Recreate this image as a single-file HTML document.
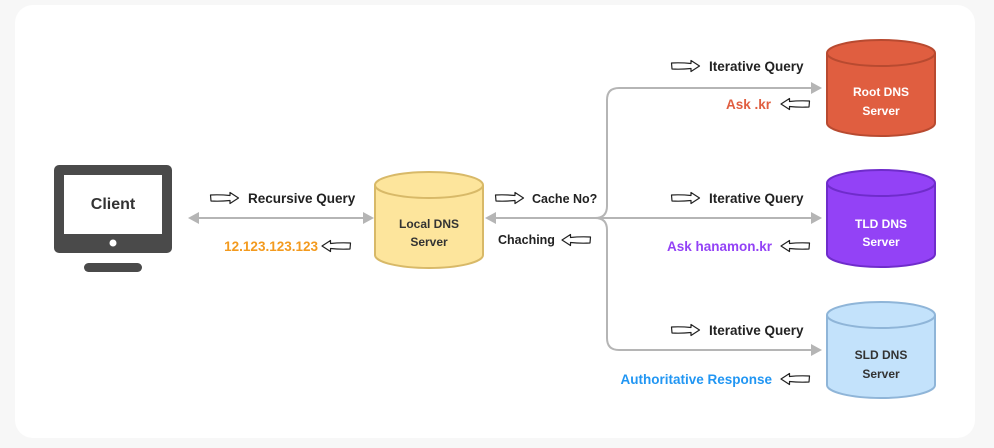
<!DOCTYPE html>
<html><head><meta charset="utf-8"><style>
html,body{margin:0;padding:0;background:#f7f7f7;}
svg{display:block}
text{font-family:"Liberation Sans",sans-serif;font-weight:bold;}
</style></head><body>
<svg width="994" height="448" viewBox="0 0 994 448" xmlns="http://www.w3.org/2000/svg">
<defs>
<g id="ar"><path d="M0.5,3 Q10,2.5 20,3.5 L20,0.5 L28.5,6 L20,11.5 L20,8.5 Q10,9.5 1,9 Z" fill="#fff" stroke="#222" stroke-width="1.2" stroke-linejoin="round"/></g>
<g id="al"><path d="M28.5,3 Q18,2.5 8.5,3.5 L8.5,0.5 L0,6 L8.5,11.5 L8.5,8.5 Q18,9.5 28,9 Z" fill="#fff" stroke="#222" stroke-width="1.2" stroke-linejoin="round"/></g>
</defs>
<rect x="15" y="5" width="960" height="433" rx="18" fill="#fff"/>
<rect x="54" y="165" width="118" height="88" rx="5" fill="#4a4a4a"/>
<rect x="64" y="175" width="98" height="59" fill="#fff"/>
<circle cx="113" cy="243" r="3.5" fill="#fff"/>
<rect x="84" y="263" width="58" height="9" rx="4.5" fill="#4a4a4a"/>
<text x="113" y="209" font-size="16" text-anchor="middle" fill="#333">Client</text>
<g stroke="#b5b5b5" stroke-width="2" fill="none">
<line x1="198" y1="218" x2="364" y2="218"/>
<line x1="495" y1="218" x2="812" y2="218"/>
<path d="M595,218 Q607,218 607,206 L607,100 Q607,88 619,88 L812,88"/>
<path d="M595,218 Q607,218 607,230 L607,338 Q607,350 619,350 L812,350"/>
</g>
<g fill="#b5b5b5">
<path d="M188,218 L199,212 L199,224Z"/>
<path d="M374,218 L363,212 L363,224Z"/>
<path d="M485,218 L496,212 L496,224Z"/>
<path d="M822,88 L811,82 L811,94Z"/>
<path d="M822,218 L811,212 L811,224Z"/>
<path d="M822,350 L811,344 L811,356Z"/>
</g>
<g stroke-width="2">
<path d="M375,185 L375,255 A54,13 0 0 0 483,255 L483,185" fill="#fde59c" stroke="#d8b968"/>
<ellipse cx="429" cy="185" rx="54" ry="13" fill="#fde59c" stroke="#d8b968"/>
<path d="M827,53 L827,123 A54,13 0 0 0 935,123 L935,53" fill="#e05e40" stroke="#b84a30"/>
<ellipse cx="881" cy="53" rx="54" ry="13" fill="#e05e40" stroke="#b84a30"/>
<path d="M827,183 L827,254 A54,13 0 0 0 935,254 L935,183" fill="#9342f6" stroke="#6f2ccb"/>
<ellipse cx="881" cy="183" rx="54" ry="13" fill="#9342f6" stroke="#6f2ccb"/>
<path d="M827,315 L827,385 A54,13 0 0 0 935,385 L935,315" fill="#c3e2fb" stroke="#8fb5d8"/>
<ellipse cx="881" cy="315" rx="54" ry="13" fill="#c3e2fb" stroke="#8fb5d8"/>
</g>
<g font-size="12" text-anchor="middle">
<text x="429" y="228" fill="#333">Local DNS</text><text x="429" y="246" fill="#333">Server</text>
<text x="881" y="96" fill="#fff">Root DNS</text><text x="881" y="115" fill="#fff">Server</text>
<text x="881" y="228" fill="#fff">TLD DNS</text><text x="881" y="246" fill="#fff">Server</text>
<text x="881" y="359" fill="#333">SLD DNS</text><text x="881" y="378" fill="#333">Server</text>
</g>
<g font-size="13.5" fill="#222">
<use href="#ar" x="210" y="192"/><text x="248" y="203">Recursive Query</text>
<text x="318" y="251" text-anchor="end" fill="#f39a1e">12.123.123.123</text><use href="#al" x="322" y="240"/>
<use href="#ar" x="495" y="192"/><text x="532" y="203" font-size="12.5">Cache  No?</text>
<text x="498" y="244" font-size="12.5">Chaching</text><use href="#al" x="562" y="234"/>
<use href="#ar" x="671" y="60"/><text x="709" y="71">Iterative Query</text>
<text x="771" y="109" text-anchor="end" fill="#e05e40">Ask .kr</text><use href="#al" x="781" y="98"/>
<use href="#ar" x="671" y="192"/><text x="709" y="203">Iterative Query</text>
<text x="772" y="251" text-anchor="end" fill="#9342f6">Ask hanamon.kr</text><use href="#al" x="781" y="240"/>
<use href="#ar" x="671" y="324"/><text x="709" y="335">Iterative Query</text>
<text x="772" y="384" text-anchor="end" fill="#2196f3">Authoritative Response</text><use href="#al" x="781" y="373"/>
</g>
</svg>
</body></html>
